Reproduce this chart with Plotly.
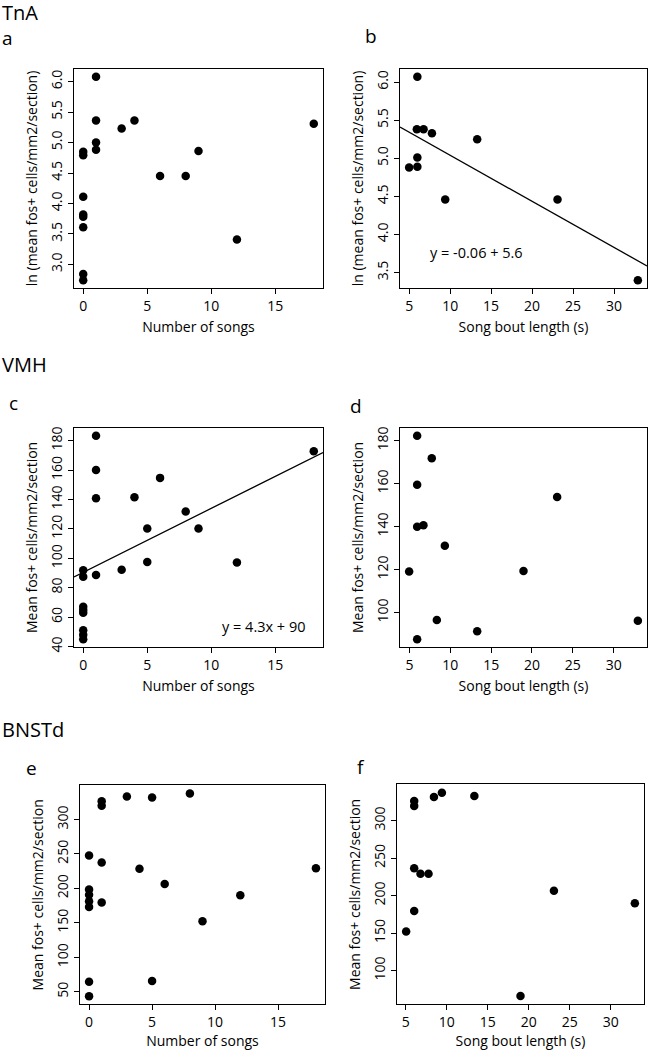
import plotly.graph_objects as go

W, H = 648, 1050

# ---------------- data ----------------
# TnA
a_songs = [0, 0, 0, 0, 0, 0, 0, 0, 1, 1, 1, 1, 3, 4, 6, 8, 9, 12, 18]
a_fos = [4.85, 4.79, 4.11, 3.82, 3.78, 3.61, 2.84, 2.74, 6.08, 5.36, 5.00, 4.88, 5.23, 5.36, 4.45, 4.45, 4.86, 3.41, 5.31]
b_len = [6.0, 5.94, 6.76, 7.78, 13.3, 6.0, 5.0, 6.0, 9.4, 23.1, 32.9]
b_fos = [6.07, 5.38, 5.38, 5.33, 5.25, 5.01, 4.88, 4.89, 4.46, 4.46, 3.40]
b_slope, b_intercept = -0.0605, 5.645
b_label = "y = -0.06 + 5.6"

# VMH
c_songs = [0, 0, 0, 0, 0, 0, 0, 0, 1, 1, 1, 1, 3, 4, 5, 5, 6, 8, 9, 12, 18]
c_fos = [91.9, 87.4, 67.0, 64.8, 63.0, 51.0, 48.0, 45.0, 183.4, 160.1, 140.9, 88.6, 92.2, 141.6, 120.2, 97.4, 154.7, 131.9, 120.2, 97.2, 172.8]
c_slope, c_intercept = 4.35, 90.5
c_label = "y = 4.3x + 90"
d_len = [5.94, 7.73, 5.94, 5.94, 6.71, 9.33, 4.96, 18.96, 23.08, 8.35, 13.29, 5.94, 32.96]
d_fos = [182.3, 171.8, 159.5, 140.0, 140.6, 131.1, 119.2, 119.4, 153.8, 96.6, 91.4, 87.7, 96.2]

# BNSTd
e_songs = [0, 0, 0, 0, 0, 0, 0, 1, 1, 1, 1, 3, 4, 5, 5, 6, 8, 9, 12, 18]
e_fos = [247.9, 198.6, 190.9, 181.2, 173.0, 64.5, 43.7, 326.5, 319.8, 237.5, 179.4, 333.3, 228.6, 331.9, 65.5, 206.4, 337.6, 152.3, 190.0, 229.1]
f_len = [6.02, 6.02, 8.43, 9.40, 13.36, 6.02, 6.79, 7.77, 6.02, 5.04, 23.07, 32.94, 18.99]
f_fos = [326.0, 319.4, 331.3, 337.1, 332.7, 236.4, 228.9, 228.9, 179.5, 152.1, 206.4, 189.6, 66.0]

x_title_songs = "Number of songs"
x_title_len = "Song bout length (s)"
y_title_ln = "ln (mean fos+ cells/mm2/section)"
y_title_mean = "Mean fos+ cells/mm2/section"

FONT = "Open Sans"


def rrange(v):
    lo, hi = min(v), max(v)
    pad = 0.04 * (hi - lo)
    return [lo - pad, hi + pad]


# panel boxes in pixels: (left, right, top, bottom)
boxes = {
    "a": (74, 323, 68, 289),
    "b": (400, 647, 68, 289),
    "c": (74, 323, 429, 650),
    "d": (400, 647, 429, 650),
    "e": (80, 325, 789, 1009),
    "f": (397, 644, 788, 1009),
}

panels = [
    ("a", a_songs, a_fos, x_title_songs, y_title_ln, 5, 0.5, ".1f"),
    ("b", b_len, b_fos, x_title_len, y_title_ln, 5, 0.5, ".1f"),
    ("c", c_songs, c_fos, x_title_songs, y_title_mean, 5, 20, "d"),
    ("d", d_len, d_fos, x_title_len, y_title_mean, 5, 20, "d"),
    ("e", e_songs, e_fos, x_title_songs, y_title_mean, 5, 50, "d"),
    ("f", f_len, f_fos, x_title_len, y_title_mean, 5, 50, "d"),
]

fig = go.Figure()
layout = {}
ranges = {}
for i, (key, xs, ys, xt, yt, dx, dy, yfmt) in enumerate(panels):
    n = "" if i == 0 else str(i + 1)
    xa, ya = "x" + n, "y" + n
    l, r, t, b = boxes[key]
    xr, yr = rrange(xs), rrange(ys)
    ranges[key] = (xa, ya, xr, yr)
    fig.add_trace(go.Scatter(x=xs, y=ys, mode="markers", xaxis=xa, yaxis=ya,
                             marker=dict(color="black", size=8.5, line=dict(width=0)),
                             showlegend=False, hoverinfo="x+y"))
    common = dict(showline=True, mirror=True, linecolor="black", linewidth=1.3,
                  ticks="outside", ticklen=5, tickwidth=1, tickcolor="black",
                  showgrid=False, zeroline=False,
                  tickfont=dict(family=FONT, size=14, color="black"))
    layout["xaxis" + n] = dict(common, domain=[l / W, r / W], range=xr, anchor=ya,
                               dtick=dx, tick0=0,
                               title=dict(text=xt, font=dict(family=FONT, size=14, color="black"), standoff=7))
    layout["yaxis" + n] = dict(common, domain=[1 - b / H, 1 - t / H], range=yr, anchor=xa,
                               dtick=dy, tick0=0, tickformat=yfmt, tickangle=-90,
                               title=dict(text=yt, font=dict(family=FONT, size=14, color="black"), standoff=6))

# regression lines
for key, slope, icpt in [("b", b_slope, b_intercept), ("c", c_slope, c_intercept)]:
    xa, ya, xr, yr = ranges[key]
    fig.add_trace(go.Scatter(x=xr, y=[icpt + slope * xr[0], icpt + slope * xr[1]], mode="lines",
                             xaxis=xa, yaxis=ya, line=dict(color="black", width=1.3),
                             showlegend=False, hoverinfo="skip"))

annotations = []
# equation labels (data coords)
annotations.append(dict(text=b_label, xref="x2", yref="y2", x=13.2, y=3.77, showarrow=False,
                        font=dict(family=FONT, size=14.5, color="black"), xanchor="center", yanchor="middle"))
annotations.append(dict(text=c_label, xref="x3", yref="y3", x=14.06, y=53.5, showarrow=False,
                        font=dict(family=FONT, size=14.5, color="black"), xanchor="center", yanchor="middle"))

# section / panel labels (pixel positions)
labels = [("TnA", 0, 12, 20), ("a", 0, 37, 19), ("b", 363, 35, 19),
          ("VMH", 0, 366, 20), ("c", 7, 404, 19), ("d", 348, 407, 19),
          ("BNSTd", 0, 733, 20), ("e", 24, 771, 19), ("f", 355, 770, 19)]
for txt, px, py, fs in labels:
    annotations.append(dict(text=txt, xref="paper", yref="paper", x=px / W, y=1 - py / H,
                            showarrow=False, xanchor="left", yanchor="middle",
                            font=dict(family=FONT, size=fs, color="black")))

fig.update_layout(**layout)
fig.update_layout(width=W, height=H, margin=dict(l=0, r=0, t=0, b=0),
                  paper_bgcolor="white", plot_bgcolor="white",
                  font=dict(family=FONT, color="black"), annotations=annotations)

fig.write_html("out.html", config={"displayModeBar": False},
               post_script="document.body.style.margin='0px';document.body.style.overflow='hidden';")
